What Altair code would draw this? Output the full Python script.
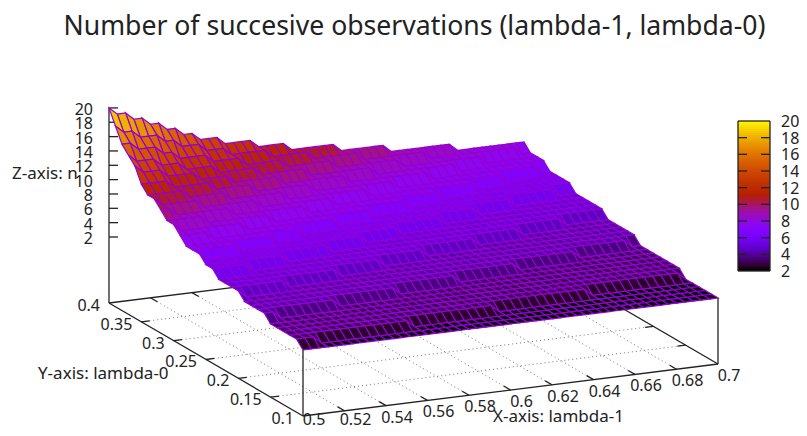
import numpy as np
import pandas as pd
import altair as alt

FONT = "Noto Sans"
TITLE = "Number of succesive observations (lambda-1, lambda-0)"

# lambda-0 rows, and for each one: n at lambda-1 = 0.5 and the grid columns where n drops by one
LAMBDA1_STEP = 0.004
LAMBDA1_COLS = 51
LAMBDA0_STEP = 0.01
ROW_START = [2, 3, 3, 3, 3, 3, 4, 4, 4, 4, 5, 5, 5, 5, 6, 6, 7, 7, 7, 8, 9, 9, 10, 11, 11, 12, 14, 15, 16, 18, 20]
ROW_DROPS = [
    [], [3], [15], [26], [38], [50], [2], [10], [18], [26],
    [1, 34], [7, 42], [14, 49], [20], [5, 26], [10, 33], [1, 16, 39], [6, 21, 45], [11, 26],
    [4, 15, 32], [1, 9, 20, 37], [5, 13, 25, 42], [2, 9, 18, 30, 48], [1, 6, 13, 22, 35],
    [5, 10, 17, 27, 40], [4, 9, 14, 21, 31, 44], [1, 4, 8, 12, 18, 26, 36, 49],
    [1, 4, 7, 11, 16, 22, 30, 40], [2, 5, 7, 11, 15, 20, 26, 34, 44],
    [1, 3, 6, 8, 11, 14, 19, 24, 30, 38, 49], [1, 3, 5, 7, 9, 11, 14, 18, 22, 28, 34, 42],
]
X_TICKS = [0.5, 0.52, 0.54, 0.56, 0.58, 0.6, 0.62, 0.64, 0.66, 0.68, 0.7]
X_LABELS = ["0.5", "0.52", "0.54", "0.56", "0.58", "0.6", "0.62", "0.64", "0.66", "0.68", "0.7"]
Y_TICKS = [0.1, 0.15, 0.2, 0.25, 0.3, 0.35, 0.4]
Y_LABELS = ["0.1", "0.15", "0.2", "0.25", "0.3", "0.35", "0.4"]
Z_TICKS = [2, 4, 6, 8, 10, 12, 14, 16, 18, 20]

W, H, TOP, LEFT = 791, 374, 54, 8
sx = alt.Scale(domain=[LEFT, LEFT + W], range=[0, W], nice=False, zero=False)
sy = alt.Scale(domain=[TOP + H, TOP], range=[H, 0], nice=False, zero=False)


def proj(x, y, z=None):
    """Fixed gnuplot-like view: data space to drawing plane."""
    px = 303 + 2075 * (x - 0.5) - 646.7 * (y - 0.1)
    py = 416 - 260 * (x - 0.5) - 376.7 * (y - 0.1)
    if z is not None:
        py = py - 66 - 7.17 * (z - 2)
    return px, py


def palette(g):
    r = np.sqrt(g)
    gg = g ** 3
    b = np.clip(np.sin(2 * np.pi * g), 0, 1)
    return "#%02x%02x%02x" % (int(r * 255), int(gg * 255), int(b * 255))


Z_DOMAIN = [float(v) for v in np.linspace(2, 20, 41)]
Z_RANGE = [palette((v - 2) / 18) for v in Z_DOMAIN]
cscale = alt.Scale(domain=Z_DOMAIN, range=Z_RANGE, interpolate="rgb", clamp=True)

# ---------- surface grid
grid = np.zeros((len(ROW_START), LAMBDA1_COLS))
for j, (s, drops) in enumerate(zip(ROW_START, ROW_DROPS)):
    for i in range(LAMBDA1_COLS):
        grid[j, i] = s - sum(1 for d in drops if i >= d)

rows = []
cid = 0
for j in range(grid.shape[0] - 2, -1, -1):
    for i in range(LAMBDA1_COLS - 2, -1, -1):
        corners = [(i, j), (i + 1, j), (i + 1, j + 1), (i, j + 1), (i, j)]
        mean = np.mean([grid[b, a] for a, b in corners[:4]])
        for k, (a, b) in enumerate(corners):
            px, py = proj(0.5 + a * LAMBDA1_STEP, 0.1 + b * LAMBDA0_STEP, grid[b, a])
            rows.append((px, py, cid, k, float(mean)))
        cid += 1
surf = pd.DataFrame(rows, columns=["px", "py", "cell", "k", "n"])


def seg_df(segs):
    out = []
    for sid, (a, b) in enumerate(segs):
        out.append((a[0], a[1], sid, 0))
        out.append((b[0], b[1], sid, 1))
    return pd.DataFrame(out, columns=["px", "py", "sid", "k"])


def lines(segs, **kw):
    return alt.Chart(seg_df(segs)).mark_line(**kw).encode(
        x=alt.X("px:Q", scale=sx, axis=None),
        y=alt.Y("py:Q", scale=sy, axis=None),
        detail="sid:N",
        order="k:O",
    )


def texts(items, align, size=16, **kw):
    df = pd.DataFrame(items, columns=["px", "py", "label"])
    return alt.Chart(df).mark_text(align=align, baseline="middle", font=FONT, fontSize=size,
                                   color="#222222", **kw).encode(
        x=alt.X("px:Q", scale=sx, axis=None),
        y=alt.Y("py:Q", scale=sy, axis=None),
        text="label:N",
    )


# ---------- floor
dots = []
for x in X_TICKS[1:-1]:
    dots.append((proj(x, 0.1), proj(x, 0.4)))
for y in Y_TICKS[1:-1]:
    dots.append((proj(0.5, y), proj(0.7, y)))

frame = [
    (proj(0.5, 0.1), proj(0.7, 0.1)), (proj(0.5, 0.1), proj(0.5, 0.4)),
    (proj(0.7, 0.1), proj(0.7, 0.4)), (proj(0.5, 0.4), proj(0.7, 0.4)),
    (proj(0.5, 0.1), proj(0.5, 0.1, 2)), (proj(0.7, 0.1), proj(0.7, 0.1, 2)),
    (proj(0.5, 0.4), proj(0.5, 0.4, 20)),
]
for x in X_TICKS[1:-1]:
    frame.append((proj(x, 0.1), proj(x, 0.1105)))
    frame.append((proj(x, 0.4), proj(x, 0.3895)))
for y in Y_TICKS[1:-1]:
    frame.append((proj(0.5, y), proj(0.504, y)))
    frame.append((proj(0.7, y), proj(0.696, y)))
for z in Z_TICKS:
    p = proj(0.5, 0.4, z)
    frame.append((p, (p[0] + 9, p[1])))

# ---------- colour box
CB_X0, CB_X1, CB_TOP, CB_BOT = 738, 770, 121, 271


def cb_y(z):
    return CB_BOT - (z - 2) * (CB_BOT - CB_TOP) / 18


cb_vals = np.linspace(2, 20, 76)
cb = pd.DataFrame({
    "x0": CB_X0, "x1": CB_X1,
    "y0": [cb_y(v) for v in cb_vals[:-1]],
    "y1": [max(cb_y(v) - 3, CB_TOP) for v in cb_vals[:-1]],
    "n": cb_vals[:-1],
})
cb_layer = alt.Chart(cb).mark_rect(strokeWidth=0, opacity=1).encode(
    x=alt.X("x0:Q", scale=sx, axis=None), x2="x1:Q",
    y=alt.Y("y0:Q", scale=sy, axis=None), y2="y1:Q",
    fill=alt.Fill("n:Q", scale=cscale, legend=None),
)
cb_lines = [
    ((CB_X0, CB_TOP), (CB_X1, CB_TOP)), ((CB_X1, CB_TOP), (CB_X1, CB_BOT)),
    ((CB_X1, CB_BOT), (CB_X0, CB_BOT)), ((CB_X0, CB_BOT), (CB_X0, CB_TOP)),
]
for z in Z_TICKS[1:-1]:
    cb_lines.append(((CB_X0, cb_y(z)), (CB_X0 + 9, cb_y(z))))
    cb_lines.append(((CB_X1 - 9, cb_y(z)), (CB_X1, cb_y(z))))

# ---------- surface layer
surface = alt.Chart(surf).mark_line(stroke="#9400d3", strokeWidth=1.2).encode(
    x=alt.X("px:Q", scale=sx, axis=None),
    y=alt.Y("py:Q", scale=sy, axis=None),
    detail="cell:N",
    order="k:O",
    fill=alt.Fill("n:Q", scale=cscale, legend=None),
)

# ---------- labels
x_lab = [(proj(x, 0.1)[0] + 11, min(proj(x, 0.1)[1] + 12, 420), l) for x, l in zip(X_TICKS, X_LABELS)]
y_lab = [(proj(0.5, y)[0] - 9, proj(0.5, y)[1] + 3, l) for y, l in zip(Y_TICKS, Y_LABELS)]
z_lab = [(proj(0.5, 0.4, z)[0] - 16, proj(0.5, 0.4, z)[1] + 2, str(z)) for z in Z_TICKS]
cb_lab = [(781, cb_y(z) + 1, str(z)) for z in Z_TICKS]

chart = alt.layer(
    lines(dots, stroke="#777777", strokeWidth=1, strokeDash=[1, 3]),
    lines(frame, stroke="#222222", strokeWidth=1.3),
    surface,
    cb_layer,
    lines(cb_lines, stroke="#222222", strokeWidth=1.3),
    texts(x_lab, "center"),
    texts(y_lab, "right"),
    texts(z_lab, "right"),
    texts(cb_lab, "left"),
    texts([(12, 174, "Z-axis: n")], "left", size=17),
    texts([(38, 374, "Y-axis: lambda-0")], "left", size=17),
    texts([(493, 417, "X-axis: lambda-1")], "left", size=17),
).properties(
    width=W, height=H,
    padding={"left": 0, "top": TOP - 8, "right": 0, "bottom": 0},
    autosize=alt.AutoSizeParams(type="none"),
    title=alt.TitleParams(TITLE, font=FONT, fontSize=26.6, fontWeight="normal", color="#222222",
                          anchor="middle", frame="group", dx=11, offset=13),
).configure_view(strokeWidth=0)

chart.save("out.html", embed_options={"renderer": "svg", "actions": False})
